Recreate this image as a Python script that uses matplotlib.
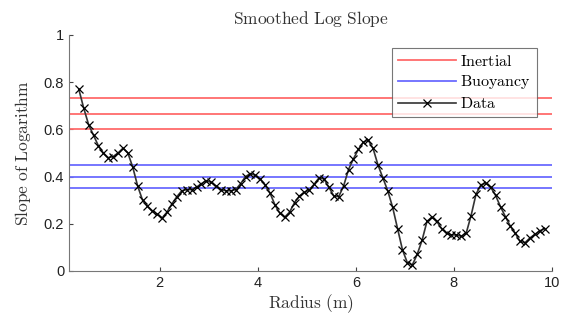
import matplotlib
matplotlib.use("Agg")
import matplotlib.pyplot as plt

# smoothed log slope vs radius
radius = [0.35, 0.45, 0.55, 0.65, 0.75, 0.85, 0.95, 1.05, 1.15, 1.25,
          1.35, 1.45, 1.55, 1.65, 1.75, 1.85, 1.95, 2.05, 2.15, 2.25,
          2.35, 2.45, 2.55, 2.65, 2.75, 2.85, 2.95, 3.05, 3.15, 3.25,
          3.35, 3.45, 3.55, 3.65, 3.75, 3.85, 3.95, 4.05, 4.15, 4.25,
          4.35, 4.45, 4.55, 4.65, 4.75, 4.85, 4.95, 5.05, 5.15, 5.25,
          5.35, 5.45, 5.55, 5.65, 5.75, 5.85, 5.95, 6.05, 6.15, 6.25,
          6.35, 6.45, 6.55, 6.65, 6.75, 6.85, 6.95, 7.05, 7.15, 7.25,
          7.35, 7.45, 7.55, 7.65, 7.75, 7.85, 7.95, 8.05, 8.15, 8.25,
          8.35, 8.45, 8.55, 8.65, 8.75, 8.85, 8.95, 9.05, 9.15, 9.25,
          9.35, 9.45, 9.55, 9.65, 9.75, 9.85]
slope = [0.77, 0.69, 0.62, 0.575, 0.53, 0.50, 0.48, 0.485, 0.50, 0.52,
         0.50, 0.44, 0.36, 0.30, 0.275, 0.255, 0.24, 0.225, 0.25, 0.285,
         0.315, 0.34, 0.345, 0.345, 0.355, 0.37, 0.383, 0.375, 0.36, 0.345,
         0.34, 0.34, 0.345, 0.37, 0.40, 0.413, 0.405, 0.39, 0.365, 0.33,
         0.28, 0.245, 0.228, 0.25, 0.29, 0.318, 0.333, 0.343, 0.368, 0.395,
         0.39, 0.355, 0.318, 0.315, 0.36, 0.43, 0.475, 0.515, 0.545, 0.555,
         0.52, 0.45, 0.395, 0.34, 0.27, 0.18, 0.09, 0.035, 0.025, 0.07,
         0.13, 0.21, 0.228, 0.21, 0.18, 0.16, 0.153, 0.153, 0.147, 0.16,
         0.235, 0.325, 0.365, 0.372, 0.355, 0.32, 0.272, 0.23, 0.19, 0.16,
         0.125, 0.12, 0.14, 0.155, 0.17, 0.18]

inertial_levels = [0.6, 0.667, 0.733]
buoyancy_levels = [0.35, 0.40, 0.45]

plt.rcParams['mathtext.fontset'] = 'cm'
plt.rcParams['font.family'] = ['Liberation Sans', 'DejaVu Sans']

fig = plt.figure(figsize=(5.62, 3.24), dpi=100)
ax = fig.add_axes([0.1228, 0.1636, 0.8594, 0.7284])

for i, lvl in enumerate(inertial_levels):
    ax.axhline(lvl, color='#ff6b6b', lw=1.3, label=r'$\mathrm{Inertial}$' if i == 0 else None)
for i, lvl in enumerate(buoyancy_levels):
    ax.axhline(lvl, color='#6b6bff', lw=1.3, label=r'$\mathrm{Buoyancy}$' if i == 0 else None)
ax.plot(radius, slope, color='#333333', lw=1.2, marker='x', markersize=6,
        markeredgecolor='black', markeredgewidth=0.9, label=r'$\mathrm{Data}$')

ax.set_xlim(0.15, 10)
ax.set_ylim(0, 1)
ax.set_xticks([2, 4, 6, 8, 10])
ax.set_yticks([0, 0.2, 0.4, 0.6, 0.8, 1])
ax.set_yticklabels(['0', '0.2', '0.4', '0.6', '0.8', '1'])
ax.tick_params(direction='in', labelsize=10.5, colors='#444444', length=3,
               labelcolor='#222222')
for side in ['top', 'right']:
    ax.spines[side].set_visible(False)
for side in ['left', 'bottom']:
    ax.spines[side].set_color('#777777')

ax.set_title(r'$\mathrm{Smoothed\ Log\ Slope}$', fontsize=12.5, color='#333333', pad=8)
ax.set_xlabel(r'$\mathrm{Radius\ (m)}$', fontsize=12.5, color='#333333', labelpad=2)
ax.set_ylabel(r'$\mathrm{Slope\ of\ Logarithm}$', fontsize=12.5, color='#333333', labelpad=8)

leg = ax.legend(loc='upper right', bbox_to_anchor=(0.968, 0.945), fontsize=11.5,
                frameon=True, fancybox=False, edgecolor='#555555',
                handlelength=3.6, handletextpad=0.3, labelspacing=0.3,
                borderpad=0.35, borderaxespad=0.0)
leg.get_frame().set_linewidth(0.8)

fig.savefig('out.png', dpi=100)
